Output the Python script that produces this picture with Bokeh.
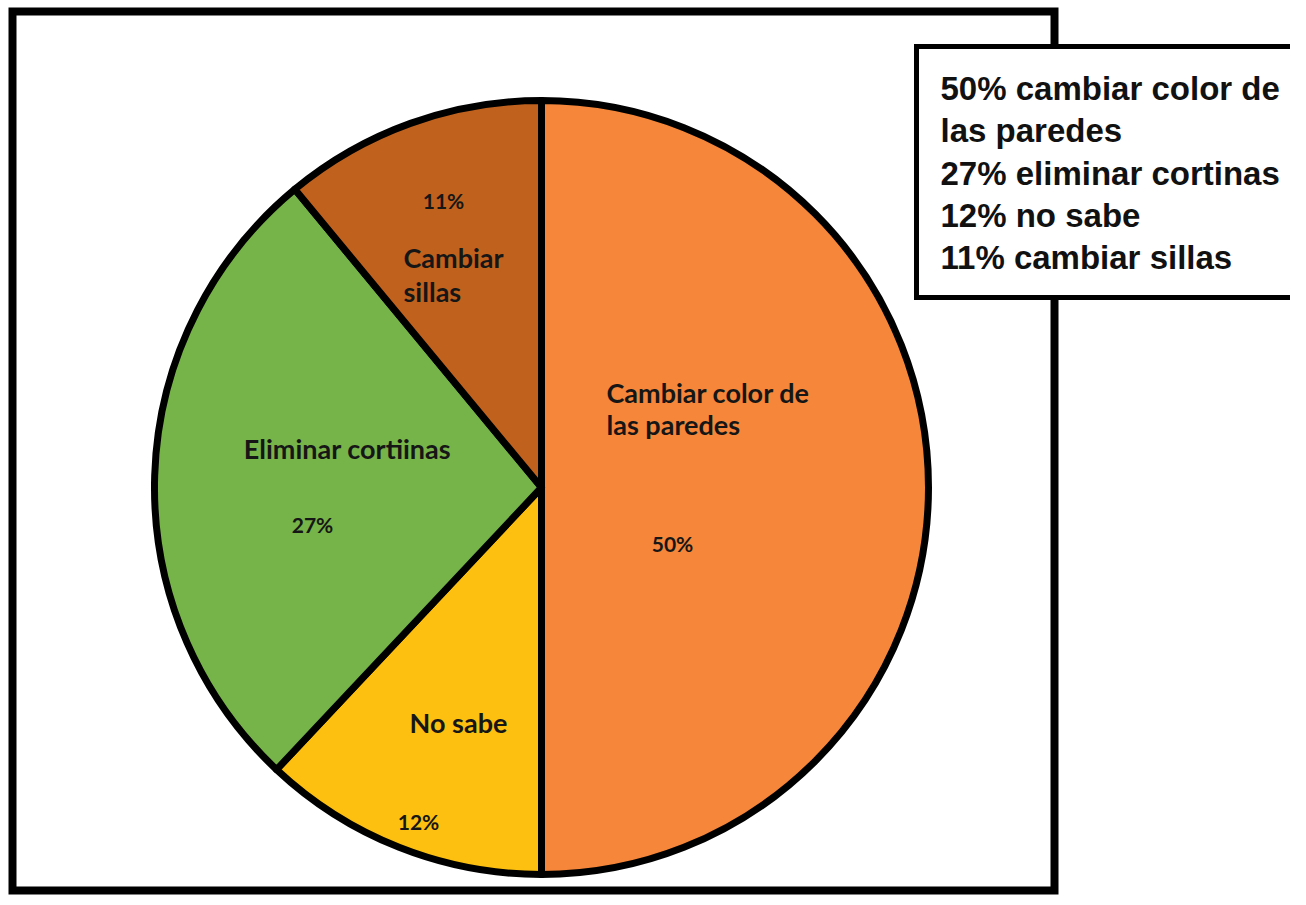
import math
from bokeh.plotting import figure
from bokeh.models import Range1d
from bokeh.core.properties import value
from bokeh.embed import file_html
from bokeh.resources import INLINE

# ---- data ----
categories = ["Cambiar color de las paredes", "No sabe", "Eliminar cortiinas", "Cambiar sillas"]
shares = [50, 12, 27, 11]
colors = ["#F5863A", "#FDC010", "#76B449", "#C0621E"]
legend_lines = ["50% cambiar color de", "las paredes", "27% eliminar cortinas",
                "12% no sabe", "11% cambiar sillas"]

W, H = 1290, 895
p = figure(width=W, height=H, output_backend="svg", toolbar_location=None,
           x_range=Range1d(0, W), y_range=Range1d(-H, 0),
           min_border=0, outline_line_color=None)
p.axis.visible = False
p.grid.visible = False
p.background_fill_color = "white"
p.border_fill_color = "white"

# outer frame
p.quad(left=[12], right=[1054], top=[-11], bottom=[-890],
       fill_color="white", line_color="black", line_width=8, line_join="miter")

# pie
cx, cy, r = 541, -487, 387
total = sum(shares)
starts, ends = [], []
acc = 0.0
for s in shares:
    a0 = math.pi / 2 - 2 * math.pi * acc / total
    acc += s
    a1 = math.pi / 2 - 2 * math.pi * acc / total
    starts.append(a0)
    ends.append(a1)
p.wedge(x=[cx] * len(shares), y=[cy] * len(shares), radius=r,
        start_angle=starts, end_angle=ends, direction="clock",
        fill_color=colors, line_color="black", line_width=7, line_join="round")

lab_font = value("Lato")
dark = "#161616"

# category labels (text, x, y, align)
cat_labels = [
    ("Cambiar color de", 606, 392, "left"),
    ("las paredes", 606, 424, "left"),
    ("No sabe", 458, 722, "center"),
    ("Eliminar cortiinas", 347, 448, "center"),
    ("Cambiar", 403, 257, "left"),
    ("sillas", 403, 291, "left"),
]
for t, x, y, al in cat_labels:
    p.text(x=[x], y=[-y], text=[t], text_font=lab_font, text_font_style="bold",
           text_font_size="27px", text_color=dark, text_align=al,
           text_baseline="middle")

pct_pos = [(672, 543), (418, 821), (312, 524), (443, 200)]
for s, (x, y) in zip(shares, pct_pos):
    p.text(x=[x], y=[-y], text=[f"{s}%"], text_font=lab_font, text_font_style="bold",
           text_font_size="21px", text_color=dark, text_align="center",
           text_baseline="middle")

# legend box
p.quad(left=[916], right=[1330], top=[-46], bottom=[-297],
       fill_color="white", line_color="black", line_width=5, line_join="miter")
for i, t in enumerate(legend_lines):
    p.text(x=[940], y=[-(88 + 42.3 * i)], text=[t], text_font=value("Liberation Sans"),
           text_font_style="bold", text_font_size="33px", text_color="#111111",
           text_align="left", text_baseline="alphabetic")

open("out.html", "w").write(file_html(p, INLINE))
